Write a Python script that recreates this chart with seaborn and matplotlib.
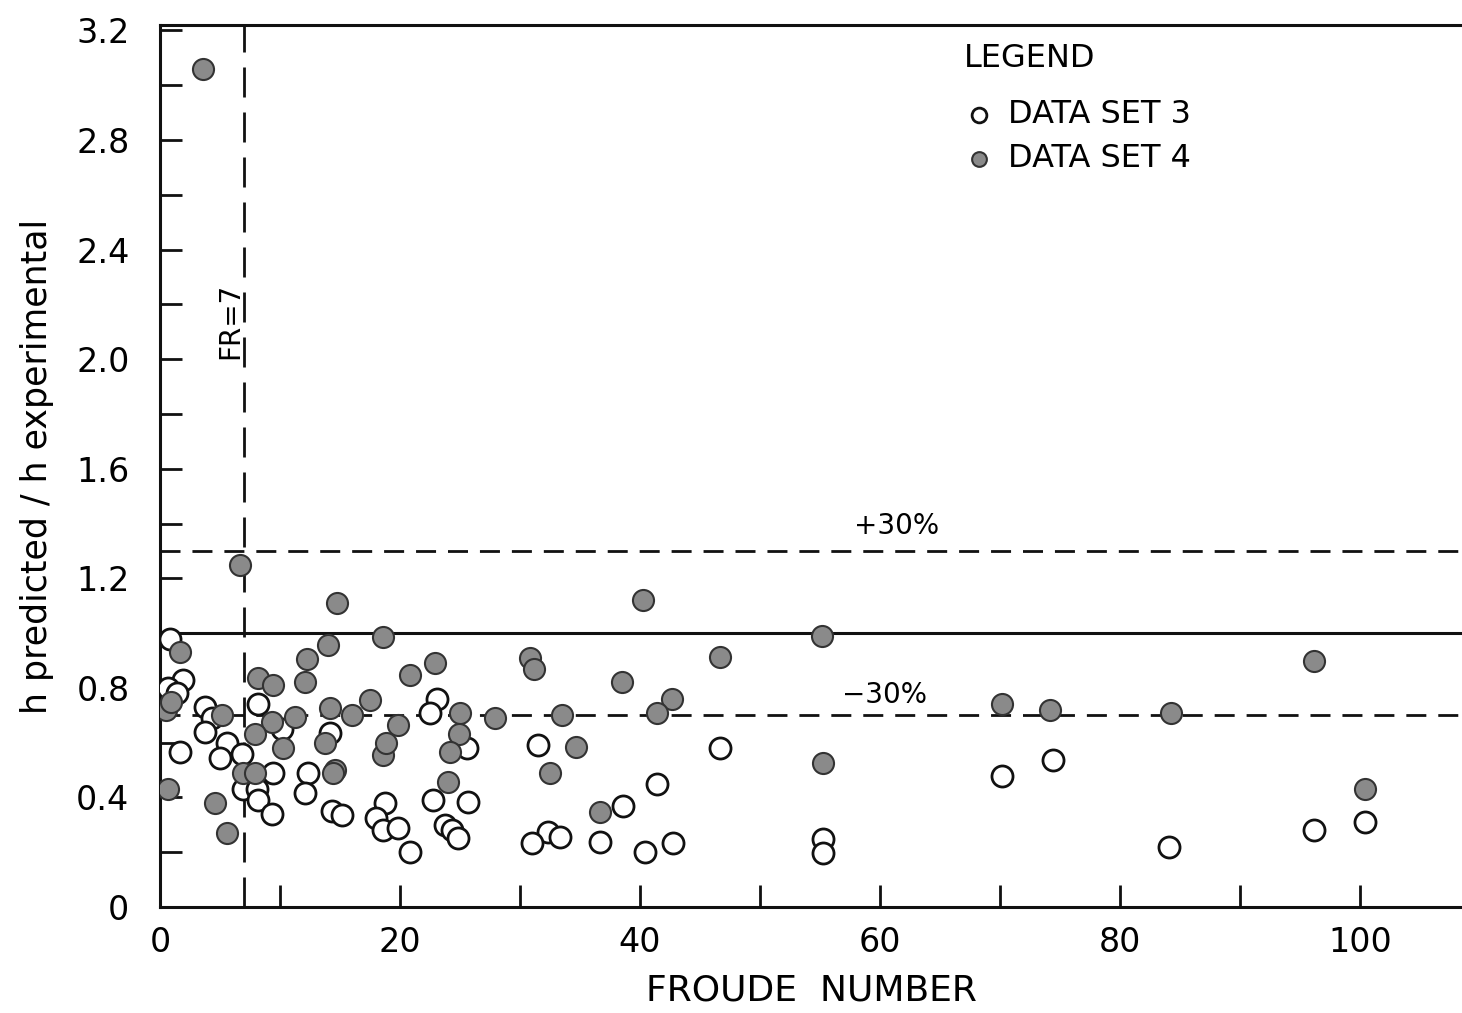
import matplotlib
matplotlib.use("Agg")
import matplotlib.pyplot as plt
import seaborn as sns
import pandas as pd
import numpy as np

# Data set 3 (open circles)
ds3_x = [0.8, 1.9, 0.67, 1.4, 3.75, 4.3, 3.75, 8.2, 10.2, 14.2, 1.67, 5.6, 5.0, 6.8, 9.4, 12.3,
         6.9, 8.1, 8.2, 9.3, 12.1, 14.3, 15.2, 23.1, 22.5, 25.6, 18.75, 22.75, 25.7, 18.0, 18.6,
         19.8, 23.75, 24.3, 24.8, 20.8, 31.5, 46.7, 41.4, 38.6, 32.3, 33.3, 31.0, 36.7, 40.4,
         42.75, 55.25, 55.25, 70.2, 74.4, 84.1, 96.2, 100.4]
ds3_y = [0.98, 0.83, 0.80, 0.78, 0.73, 0.69, 0.64, 0.74, 0.65, 0.635, 0.566, 0.60, 0.545, 0.56, 0.49, 0.49,
         0.43, 0.43, 0.39, 0.34, 0.416, 0.35, 0.336, 0.76, 0.71, 0.58, 0.38, 0.39, 0.384, 0.325, 0.28,
         0.29, 0.30, 0.28, 0.252, 0.20, 0.59, 0.58, 0.45, 0.37, 0.274, 0.256, 0.234, 0.237, 0.20,
         0.234, 0.25, 0.197, 0.48, 0.537, 0.22, 0.28, 0.31]

# Data set 4 (filled circles)
ds4_x = [3.6, 6.7, 14.75, 40.25, 1.67, 12.25, 14.0, 18.6, 22.9, 20.8, 30.8, 31.2, 46.7, 55.2, 96.2,
         0.5, 0.9, 8.2, 9.4, 12.1, 5.2, 9.3, 11.25, 7.9, 14.2, 16.0, 13.75, 10.25, 6.9, 7.9, 14.6,
         0.67, 4.6, 5.6, 17.5, 19.8, 25.0, 24.9, 27.9, 24.2, 14.4, 18.6, 18.8, 24.0, 38.5, 42.7,
         41.4, 33.5, 34.7, 32.5, 55.25, 36.7, 70.2, 74.2, 84.25, 100.4]
ds4_y = [3.06, 1.25, 1.11, 1.12, 0.93, 0.905, 0.957, 0.986, 0.89, 0.847, 0.91, 0.87, 0.913, 0.99, 0.90,
         0.72, 0.75, 0.836, 0.81, 0.82, 0.70, 0.675, 0.695, 0.63, 0.727, 0.70, 0.60, 0.58, 0.49, 0.49, 0.50,
         0.43, 0.38, 0.27, 0.756, 0.665, 0.71, 0.63, 0.69, 0.566, 0.49, 0.555, 0.60, 0.457, 0.82, 0.76,
         0.71, 0.70, 0.585, 0.49, 0.525, 0.347, 0.74, 0.72, 0.71, 0.43]

x_ticklabels = ["0", "20", "40", "60", "80", "100"]
y_ticklabels = ["0", "0.4", "0.8", "1.2", "1.6", "2.0", "2.4", "2.8", "3.2"]

df3 = pd.DataFrame({"fr": ds3_x, "ratio": ds3_y})
df4 = pd.DataFrame({"fr": ds4_x, "ratio": ds4_y})

sns.set_style("white")
plt.rcParams["font.family"] = ["DejaVu Sans"]
plt.rcParams["text.color"] = "black"
plt.rcParams["axes.labelcolor"] = "black"
plt.rcParams["xtick.color"] = "black"
plt.rcParams["ytick.color"] = "black"

fig = plt.figure(figsize=(14.62, 10.13), dpi=100)
ax = fig.add_axes([0.1094, 0.1046, 0.8906, 0.8707])

sns.scatterplot(data=df3, x="fr", y="ratio", ax=ax, marker="o", s=230,
                facecolor="white", edgecolor="#111111", linewidth=2.0,
                label="DATA SET 3", zorder=3)
sns.scatterplot(data=df4, x="fr", y="ratio", ax=ax, marker="o", s=230,
                facecolor="#8a8a8a", edgecolor="#333333", linewidth=1.5,
                label="DATA SET 4", zorder=4)

ax.set_xlim(0, 108.5)
ax.set_ylim(0, 3.22)

# reference lines
ax.axhline(1.0, color="#111111", lw=2.2, zorder=2)
ax.axhline(1.3, color="#111111", lw=2.0, ls=(0, (7.2, 4.3)), zorder=2)
ax.axhline(0.7, color="#111111", lw=2.0, ls=(0, (7.2, 4.3)), zorder=2)
ax.axvline(7.0, color="#111111", lw=2.0, ls=(0, (10.8, 5.4)), zorder=2)

ax.text(61.4, 1.39, "+30%", fontsize=20, ha="center", va="center")
ax.text(60.4, 0.775, "\u221230%", fontsize=20, ha="center", va="center")
ax.text(5.9, 2.14, "FR=7", fontsize=20, rotation=90, ha="center", va="center")

# ticks
xt = np.arange(0, 101, 10)
yt = np.round(np.arange(0, 3.21, 0.2), 1)
ax.set_xticks(xt)
ax.set_xticklabels([x_ticklabels[i // 2] if i % 2 == 0 else "" for i in range(len(xt))])
ax.set_yticks(yt)
ax.set_yticklabels([y_ticklabels[i // 2] if i % 2 == 0 else "" for i in range(len(yt))])
ax.tick_params(axis="both", direction="in", length=16, width=2.0, labelsize=24,
               color="#111111", bottom=True, left=True, top=False, right=False)
ax.tick_params(axis="y", pad=22)
ax.tick_params(axis="x", pad=14)

for side in ["left", "bottom", "top"]:
    ax.spines[side].set_linewidth(2.2)
    ax.spines[side].set_color("#111111")
ax.spines["right"].set_visible(False)

ax.set_xlabel("FROUDE  NUMBER", fontsize=26, labelpad=10)
ax.set_ylabel("h predicted / h experimental", fontsize=25, labelpad=16)

leg = ax.legend(title="LEGEND", loc="upper left", bbox_to_anchor=(0.595, 1.012),
                frameon=False, fontsize=23, title_fontsize=23, markerscale=0.7,
                handletextpad=0.4, handlelength=1.0, labelspacing=0.4)
leg._legend_box.align = "left"
leg._legend_box.sep = 18
for t in leg.get_texts():
    t.set_color("black")
leg.get_title().set_color("black")

fig.savefig("out.png", dpi=100)
